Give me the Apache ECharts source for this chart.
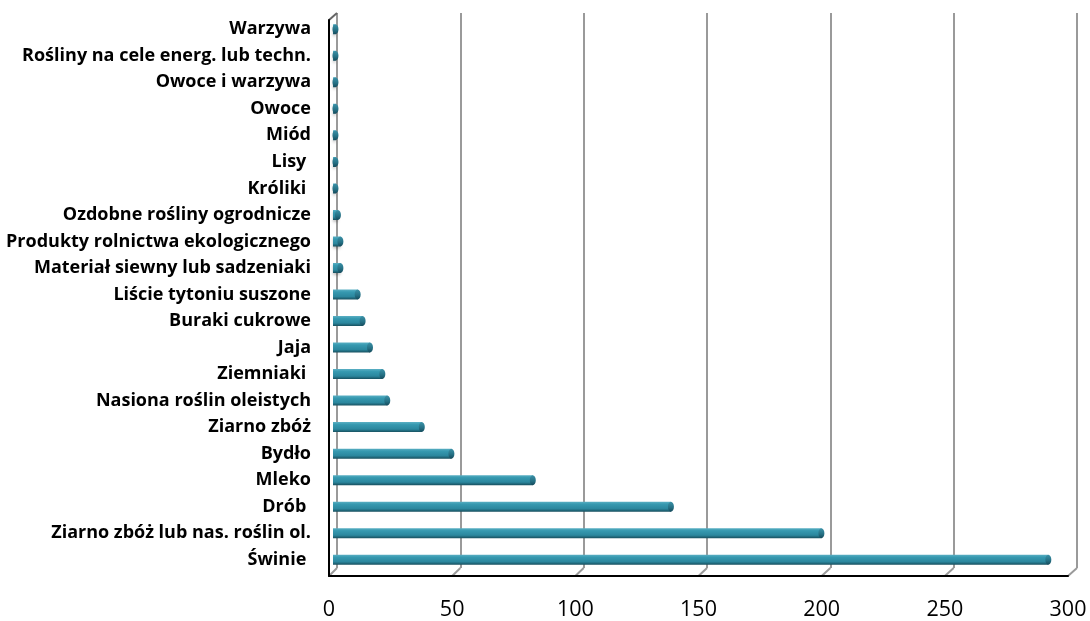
<!DOCTYPE html>
<html>
<head>
<meta charset="utf-8">
<script src="https://cdn.jsdelivr.net/npm/echarts@6/dist/echarts.min.js"></script>
<style>
  html, body { margin: 0; padding: 0; background: #fff; }
  #chart { width: 1090px; height: 621px; }
</style>
</head>
<body>
<div id="chart"></div>
<script>
// kategorie (od dołu do góry)
const categories = [
    "Świnie ", "Ziarno zbóż lub nas. roślin ol.", "Drób ", "Mleko", "Bydło",
    "Ziarno zbóż", "Nasiona roślin oleistych", "Ziemniaki ", "Jaja", "Buraki cukrowe",
    "Liście tytoniu suszone", "Materiał siewny lub sadzeniaki", "Produkty rolnictwa ekologicznego",
    "Ozdobne rośliny ogrodnicze", "Króliki ", "Lisy ", "Miód", "Owoce", "Owoce i warzywa",
    "Rośliny na cele energ. lub techn.", "Warzywa"
];
const values = [290, 198, 137, 81, 48, 36, 22, 20, 15, 12, 10, 3, 3, 2, 1, 1, 1, 1, 1, 1, 1];
const axisTicks = [0, 50, 100, 150, 200, 250, 300];

const chart = echarts.init(document.getElementById("chart"));

const barColor = new echarts.graphic.LinearGradient(0, 0, 0, 1, [
    { offset: 0, color: "#5aafc3" },
    { offset: 0.25, color: "#3699b0" },
    { offset: 0.7, color: "#2b879e" },
    { offset: 1, color: "#174f5e" }
]);
const capColor = new echarts.graphic.LinearGradient(0, 0, 0, 1, [
    { offset: 0, color: "#3c92a8" },
    { offset: 0.6, color: "#246f83" },
    { offset: 1, color: "#15495a" }
]);

// walec: prostokąt + eliptyczne zakończenie
const renderCylinder = (params, api) => {
    const start = api.coord([0, api.value(1)]);
    const end = api.coord([api.value(0), api.value(1)]);
    const h = 10;
    return {
        type: "group",
        children: [
            {
                type: "rect",
                shape: { x: start[0], y: start[1] - h / 2, width: end[0] - start[0], height: h },
                style: { fill: barColor, shadowColor: "rgba(0,0,0,0.25)", shadowBlur: 3, shadowOffsetY: 2 }
            },
            {
                type: "ellipse",
                shape: { cx: end[0], cy: end[1], rx: 3, ry: h / 2 },
                style: { fill: capColor }
            }
        ]
    };
};

chart.setOption({
    animation: false,
    grid: [
        // tylna ściana
        { left: 337, right: 13, top: 13, bottom: 53 },
        // słupki
        { left: 333, right: 17, top: 16, bottom: 48 },
        // przednia krawędź
        { left: 329, right: 22, top: 20, bottom: 44 }
    ],
    xAxis: [
        {
            gridIndex: 0, type: "value", min: 0, max: 300, interval: 50,
            axisLine: { show: false }, axisTick: { show: false }, axisLabel: { show: false },
            splitLine: { show: true, lineStyle: { color: "#9a9a9a", width: 2 } }
        },
        {
            gridIndex: 1, type: "value", min: 0, max: 300, interval: 50,
            axisLine: { show: false }, axisTick: { show: false }, axisLabel: { show: false },
            splitLine: { show: false }
        },
        {
            gridIndex: 2, type: "value", min: 0, max: 300, interval: 50,
            axisLine: { show: true, lineStyle: { color: "#000", width: 2 } },
            axisTick: { show: false },
            axisLabel: { margin: 23, color: "#000", fontFamily: "Open Sans", fontSize: 21.5 },
            splitLine: { show: false }
        }
    ],
    yAxis: [
        {
            gridIndex: 0, type: "value", min: 0, max: 1,
            axisLine: { show: false }, axisTick: { show: false }, axisLabel: { show: false },
            splitLine: { show: false }
        },
        {
            gridIndex: 1, type: "category", data: categories,
            axisLine: { show: false }, axisTick: { show: false },
            axisLabel: {
                margin: 22, color: "#000", fontFamily: "Open Sans", fontWeight: "bold", fontSize: 18
            },
            splitLine: { show: false }
        },
        {
            gridIndex: 2, type: "value", min: 0, max: 1,
            axisLine: { show: true, lineStyle: { color: "#000", width: 2 } },
            axisTick: { show: false }, axisLabel: { show: false },
            splitLine: { show: false }
        }
    ],
    series: [
        {
            type: "custom",
            xAxisIndex: 1,
            yAxisIndex: 1,
            renderItem: renderCylinder,
            encode: { x: 0, y: 1 },
            data: values.map((v, i) => [v, i])
        }
    ]
});

// ukośne łączniki między tylną ścianą a przednią krawędzią (efekt 3D)
const connectors = axisTicks.map((v) => {
    const back = chart.convertToPixel({ gridIndex: 0 }, [v, 0]);
    const front = chart.convertToPixel({ gridIndex: 2 }, [v, 0]);
    return {
        type: "line",
        shape: { x1: back[0], y1: back[1], x2: front[0], y2: front[1] },
        style: { stroke: "#9a9a9a", lineWidth: 2 }
    };
});
const backTop = chart.convertToPixel({ gridIndex: 0 }, [0, 1]);
const frontTop = chart.convertToPixel({ gridIndex: 2 }, [0, 1]);
connectors.push({
    type: "line",
    shape: { x1: backTop[0], y1: backTop[1], x2: frontTop[0], y2: frontTop[1] },
    style: { stroke: "#666", lineWidth: 2 }
});
chart.setOption({ graphic: connectors });
</script>
</body>
</html>
